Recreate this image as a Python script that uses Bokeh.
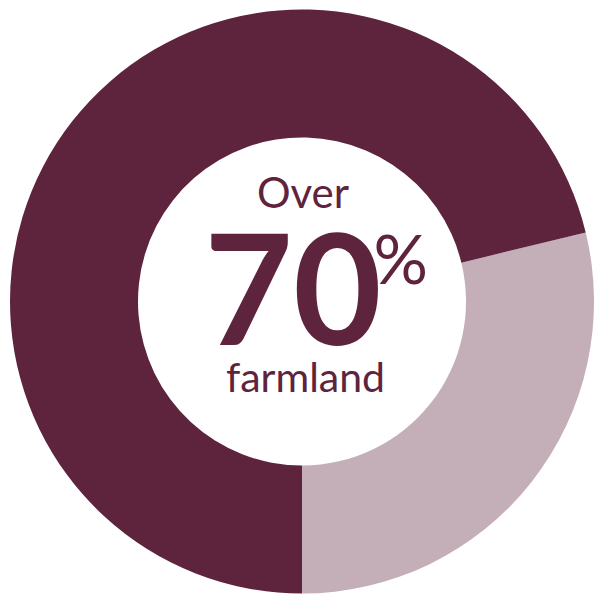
import math
from bokeh.plotting import figure
from bokeh.models import Range1d, ColumnDataSource
from bokeh.core.properties import value
from bokeh.embed import file_html
from bokeh.resources import INLINE

# Data
categories = ["Other", "Farmland"]
shares = [28.8, 71.2]
colors = ["#C4AFB8", "#5F243D"]

W, H = 596, 596
p = figure(width=W, height=H, output_backend="svg", toolbar_location=None,
           x_range=Range1d(0, W), y_range=Range1d(0, H), min_border=0)
p.axis.visible = False
p.grid.visible = False
p.outline_line_color = None
p.background_fill_color = "white"
p.border_fill_color = "white"

def py(v):
    return H - v

cx, cy = 301.5, py(301)
start = -math.pi / 2
total = sum(shares)
starts, ends = [], []
a = start
for s in shares:
    starts.append(a)
    a += 2 * math.pi * s / total
    ends.append(a)

src = ColumnDataSource(dict(cat=categories, share=shares, color=colors,
                            start=starts, end=ends))
p.annular_wedge(x=cx, y=cy, inner_radius=164, outer_radius=292,
                start_angle="start", end_angle="end", fill_color="color",
                line_color=None, source=src)

txt_color = "#5F243D"
def label(x, base, txt, size, align="center", style="normal"):
    p.text(x=[x], y=[py(base) + 0.39 * size], text=[txt], text_font=value("Lato"),
           text_font_style=style, text_font_size=f"{size}px", text_align=align,
           text_baseline="alphabetic", text_color=txt_color)

label(302.5, 208, "Over", 42)
label(292.5, 349, "70", 153, style="bold")
label(373, 284, "%", 68, align="left")
label(305, 392, "farmland", 41)

open("out.html", "w").write(file_html(p, INLINE))
